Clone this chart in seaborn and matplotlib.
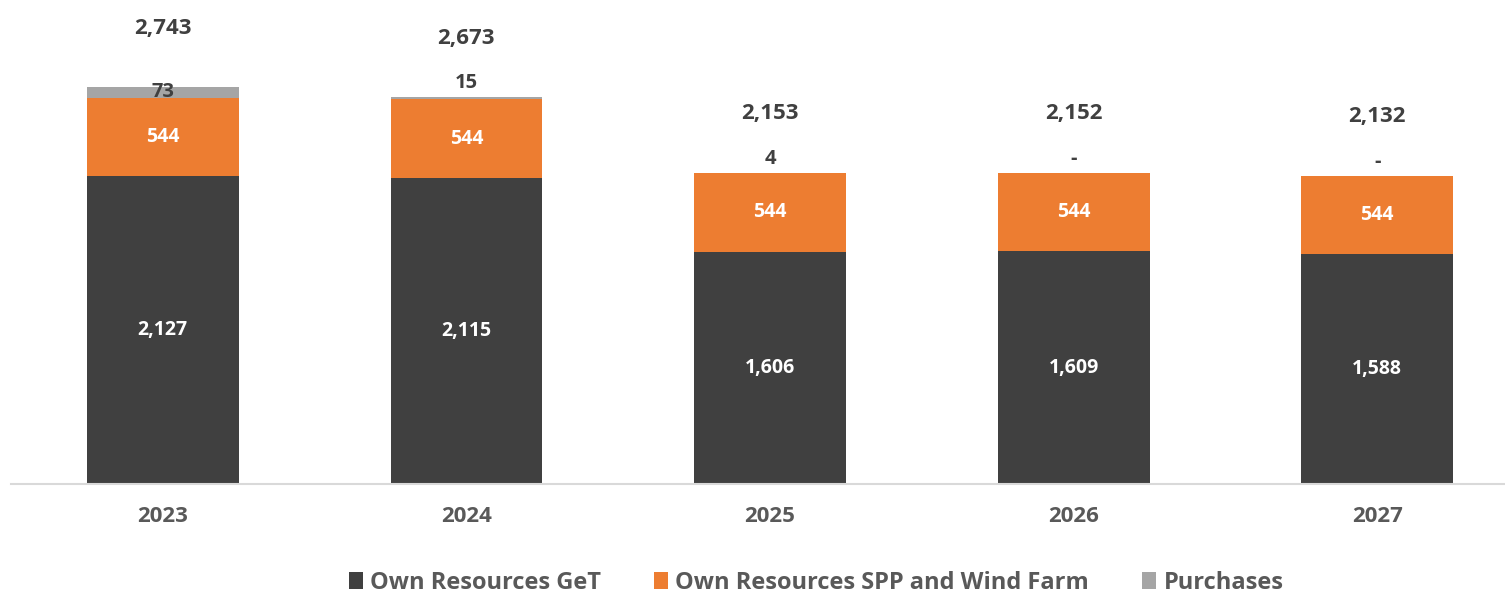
import matplotlib
matplotlib.use("Agg")
import matplotlib.pyplot as plt
from matplotlib.patches import Patch
import numpy as np
import seaborn as sns

# Supply structure by year
years = ["2023", "2024", "2025", "2026", "2027"]
own_get = [2127, 2115, 1606, 1609, 1588]
own_spp_wind = [544, 544, 544, 544, 544]
purchases = [73, 15, 4, 0, 0]
totals = [2743, 2673, 2153, 2152, 2132]
series_names = ["Own Resources GeT", "Own Resources SPP and Wind Farm", "Purchases"]

COL_GET = "#404040"
COL_SPP = "#ED7D31"
COL_PUR = "#A5A5A5"
TXT_DARK = "#404040"
TXT_GREY = "#595959"

sns.set_theme(style="white")
plt.rcParams["font.family"] = ["Open Sans", "DejaVu Sans"]

W, H = 1505, 595
fig = plt.figure(figsize=(W / 100, H / 100), dpi=100)
# plot area runs past the right edge so the last category is trimmed
ax = fig.add_axes([11 / W, 1 - 484 / H, (1529 - 11) / W, 484 / H])

get_arr = np.array(own_get, dtype=float)
spp_arr = np.array(own_spp_wind, dtype=float)
pur_arr = np.array(purchases, dtype=float)
cum1 = get_arr
cum2 = cum1 + spp_arr
cum3 = cum2 + pur_arr

# stacked bars: draw the tallest cumulative layer first, then overlay lower layers
for heights, col in [(cum3, COL_PUR), (cum2, COL_SPP), (cum1, COL_GET)]:
    sns.barplot(x=years, y=heights, color=col, width=0.5, saturation=1,
                linewidth=0, ax=ax)

ymax = 3347
ax.set_ylim(0, ymax)
ax.set_xlim(-0.5, 4.5)
px = ymax / 484.0  # data units per pixel

for i in range(len(years)):
    # segment values inside bars
    ax.text(i, cum1[i] / 2, f"{own_get[i]:,}", ha="center", va="center",
            color="white", fontsize=14, fontweight="bold")
    ax.text(i, cum1[i] + spp_arr[i] / 2, f"{own_spp_wind[i]:,}", ha="center",
            va="center", color="white", fontsize=14, fontweight="bold")
    # purchases label: inside when the segment is tall enough, otherwise above
    p = purchases[i]
    lab = f"{p:,}" if p else "-"
    if p >= 50:
        y = cum2[i] + p / 2
    else:
        y = cum3[i] + 14 * px
    ax.text(i, y, lab, ha="center", va="center", color=TXT_DARK,
            fontsize=14.5, fontweight="bold")
    # total above the stack
    ax.text(i, cum3[i] + 59 * px, f"{totals[i]:,}", ha="center", va="center",
            color=TXT_DARK, fontsize=16, fontweight="bold")

ax.set_xlabel("")
ax.set_ylabel("")
ax.set_yticks([])
for s in ["top", "left", "right"]:
    ax.spines[s].set_visible(False)
ax.spines["bottom"].set_color("#D9D9D9")
ax.spines["bottom"].set_linewidth(1.5)
ax.tick_params(axis="x", length=0, pad=16, labelsize=16, colors=TXT_GREY)
for lbl in ax.get_xticklabels():
    lbl.set_fontweight("bold")

handles = [Patch(facecolor=c, edgecolor="none") for c in (COL_GET, COL_SPP, COL_PUR)]
leg = fig.legend(handles, series_names, loc="center", ncol=3, frameon=False,
                 bbox_to_anchor=(816 / W, 1 - 583 / H),
                 handlelength=0.6, handleheight=0.75, handletextpad=0.3,
                 columnspacing=2.25,
                 prop=dict(family="Open Sans", weight="bold", size=17))
for t in leg.get_texts():
    t.set_color(TXT_GREY)

fig.savefig("out.png", dpi=100)
